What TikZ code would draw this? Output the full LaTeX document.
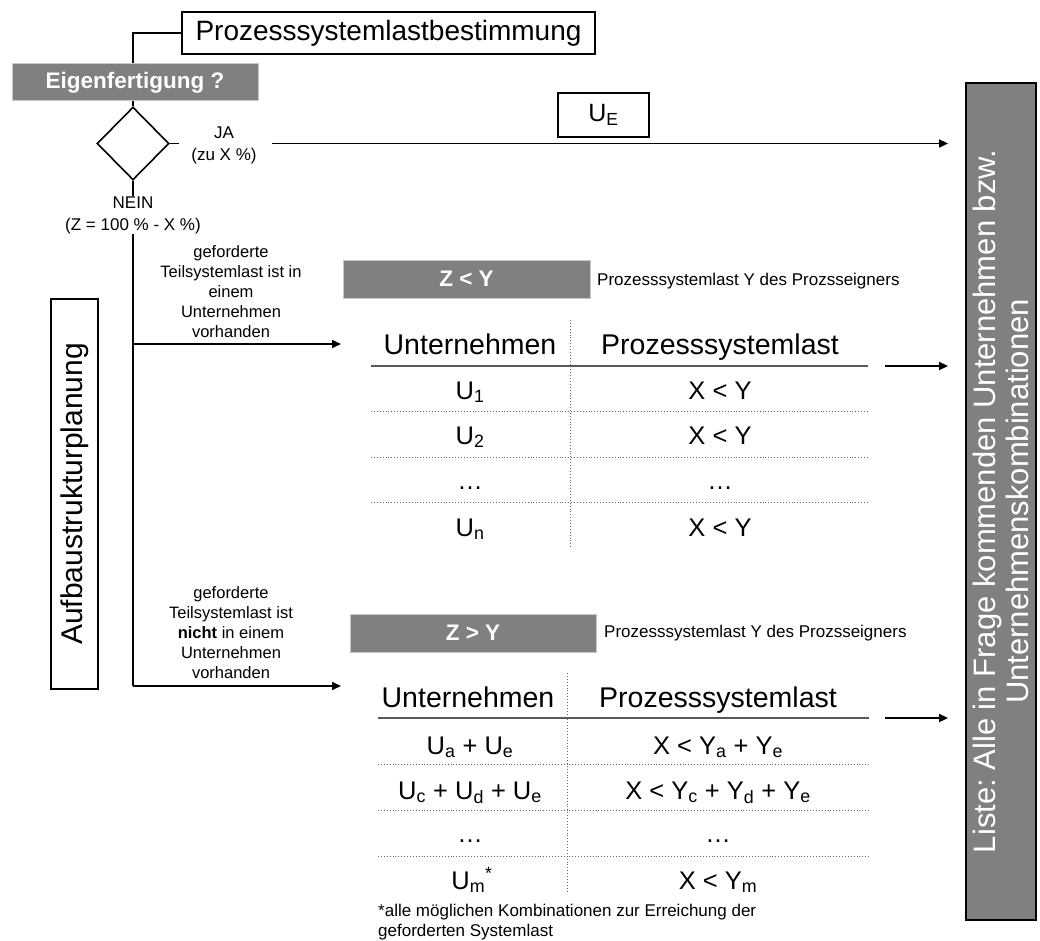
\documentclass[tikz,border=0pt]{standalone}
\usepackage{fontspec}
\setmainfont{Liberation Sans}
\usetikzlibrary{shapes.geometric,arrows.meta}
\definecolor{boxgray}{RGB}{128,128,128}
\definecolor{edgegray}{RGB}{200,200,200}
\newcommand{\setfs}[2]{\fontsize{#1}{#2}\selectfont}
\begin{document}
\begin{tikzpicture}[x=1pt,y=-1pt,
  conn/.style={line width=1.6pt},
  arr/.style={line width=1.6pt,-{Triangle[length=9pt,width=8pt]}},
  outline/.style={draw,line width=1.8pt,inner sep=0pt},
  grayhead/.style={fill=boxgray,draw=edgegray,line width=1pt,text=white,inner sep=0pt,font=\bfseries\setfs{22.5}{24}},
  lbl/.style={align=center,inner sep=0pt,font=\setfs{16.5}{20}},
  note/.style={anchor=west,inner sep=0pt,align=left,font=\setfs{17}{20}},
  hdr/.style={inner sep=0pt,anchor=base,font=\setfs{28.5}{30}},
  cell/.style={inner sep=0pt,anchor=base,font=\setfs{25.5}{28}},
  hrule/.style={draw=black!65,line width=1.5pt},
  dotrule/.style={draw=black!60,line width=0.9pt,dotted},
]
\useasboundingbox (0,0) rectangle (1040,941);

% ---- top part
\node[outline,minimum width=413pt,minimum height=42pt,font=\setfs{28}{30}] (title) at (388.5,33) {Prozesssystemlastbestimmung};
\node[grayhead,minimum width=246pt,minimum height=37pt] (eigen) at (135,82.5) {Eigenfertigung ?};
\node[draw,diamond,line width=1.6pt,minimum width=72pt,minimum height=73pt,inner sep=0pt] (dia) at (133,143.5) {};
\node[lbl,font=\setfs{17}{22}] (ja) at (224,145) {JA\\(zu X \%)};
\node[lbl,font=\setfs{17}{22}] (nein) at (133,215) {NEIN\\(Z = 100 \% - X \%)};
\node[outline,minimum width=91pt,minimum height=44pt,font=\setfs{25}{28}] (ue) at (603.5,115) {U\textsubscript{E}};

% ---- left side
\node[outline,rotate=90,minimum width=390pt,minimum height=47.6pt,font=\setfs{30}{32}] (aufbau) at (74.5,494) {Aufbaustrukturplanung};
\node[lbl] (lab1) at (231,292) {geforderte\\Teilsystemlast ist in\\einem\\Unternehmen\\vorhanden};
\node[lbl] (lab2) at (231,633) {geforderte\\Teilsystemlast ist\\\textbf{nicht} in einem\\Unternehmen\\vorhanden};

% ---- right list
\node[fill=boxgray,draw=black,line width=1.8pt,rotate=90,minimum width=837pt,minimum height=70pt,inner sep=0pt,text=white,align=center,font=\setfs{31}{33}] (list) at (1001,501.5) {Liste:\ Alle in Frage kommenden Unternehmen bzw.\\Unternehmenskombinationen};

% ---- case 1
\node[grayhead,minimum width=247pt,minimum height=38pt] (zy1) at (466.5,279) {Z < Y};
\node[note] (zn1) at (597,281) {Prozesssystemlast Y des Prozsseigners};
\node[hdr] (t1h1) at (470,354) {Unternehmen};
\node[hdr] (t1h2) at (720,354) {Prozesssystemlast};
\node[cell] (t1a1) at (470,399) {U\textsubscript{1}};
\node[cell] (t1b1) at (720,399) {X < Y};
\node[cell] (t1a2) at (470,444) {U\textsubscript{2}};
\node[cell] (t1b2) at (720,444) {X < Y};
\node[cell] (t1a3) at (470,489) {…};
\node[cell] (t1b3) at (720,489) {…};
\node[cell] (t1a4) at (470,536) {U\textsubscript{n}};
\node[cell] (t1b4) at (720,536) {X < Y};
\draw[hrule] (371,366) -- (868,366);
\draw[dotrule] (371,411) -- (868,411);
\draw[dotrule] (371,457) -- (868,457);
\draw[dotrule] (371,502) -- (868,502);
\draw[dotrule] (570,320) -- (570,547);

% ---- case 2
\node[grayhead,minimum width=246pt,minimum height=38pt] (zy2) at (473,633) {Z > Y};
\node[note] (zn2) at (604,633) {Prozesssystemlast Y des Prozsseigners};
\node[hdr] (t2h1) at (468,707) {Unternehmen};
\node[hdr] (t2h2) at (718,707) {Prozesssystemlast};
\node[cell] (t2a1) at (470,754) {U\textsubscript{a} + U\textsubscript{e}};
\node[cell] (t2b1) at (718,754) {X < Y\textsubscript{a} + Y\textsubscript{e}};
\node[cell] (t2a2) at (470,799) {U\textsubscript{c} + U\textsubscript{d} + U\textsubscript{e}};
\node[cell] (t2b2) at (718,799) {X < Y\textsubscript{c} + Y\textsubscript{d} + Y\textsubscript{e}};
\node[cell] (t2a3) at (470,842) {…};
\node[cell] (t2b3) at (718,842) {…};
\node[cell] (t2a4) at (472,889) {U\textsubscript{m}\textsuperscript{*}};
\node[cell] (t2b4) at (718,889) {X < Y\textsubscript{m}};
\draw[hrule] (378,718) -- (869,718);
\draw[dotrule] (378,764) -- (869,764);
\draw[dotrule] (378,810) -- (869,810);
\draw[dotrule] (378,856) -- (869,856);
\draw[dotrule] (567,673) -- (567,893);
\node[note] (foot) at (378,922) {*alle möglichen Kombinationen zur Erreichung der\\geforderten Systemlast};

% ---- connectors
\coordinate (jastub) at (179,143.5);
\coordinate (jaout) at (272,143.5);
\coordinate (b1) at (133,344);
\coordinate (b2) at (133,686);
\coordinate (e1) at (341,344);
\coordinate (e2) at (341,686);
\coordinate (r1) at (885,366);
\coordinate (r2) at (885,718);

\draw[conn] (title.west) -| (eigen.north -| dia.north);
\draw[conn] (eigen.south -| dia.north) -- (dia.north);
\draw[conn] (dia.east) -- (jastub);
\draw[arr,shorten >=17pt] (jaout) -- (jaout -| list.north);
\draw[conn] (dia.south) -- (nein.north);
\draw[conn] (nein.south) -- (b2);
\draw[arr] (b1) -- (e1);
\draw[arr] (b2) -- (e2);
\draw[arr,shorten >=17pt] (r1) -- (r1 -| list.north);
\draw[arr,shorten >=17pt] (r2) -- (r2 -| list.north);
\end{tikzpicture}
\end{document}
